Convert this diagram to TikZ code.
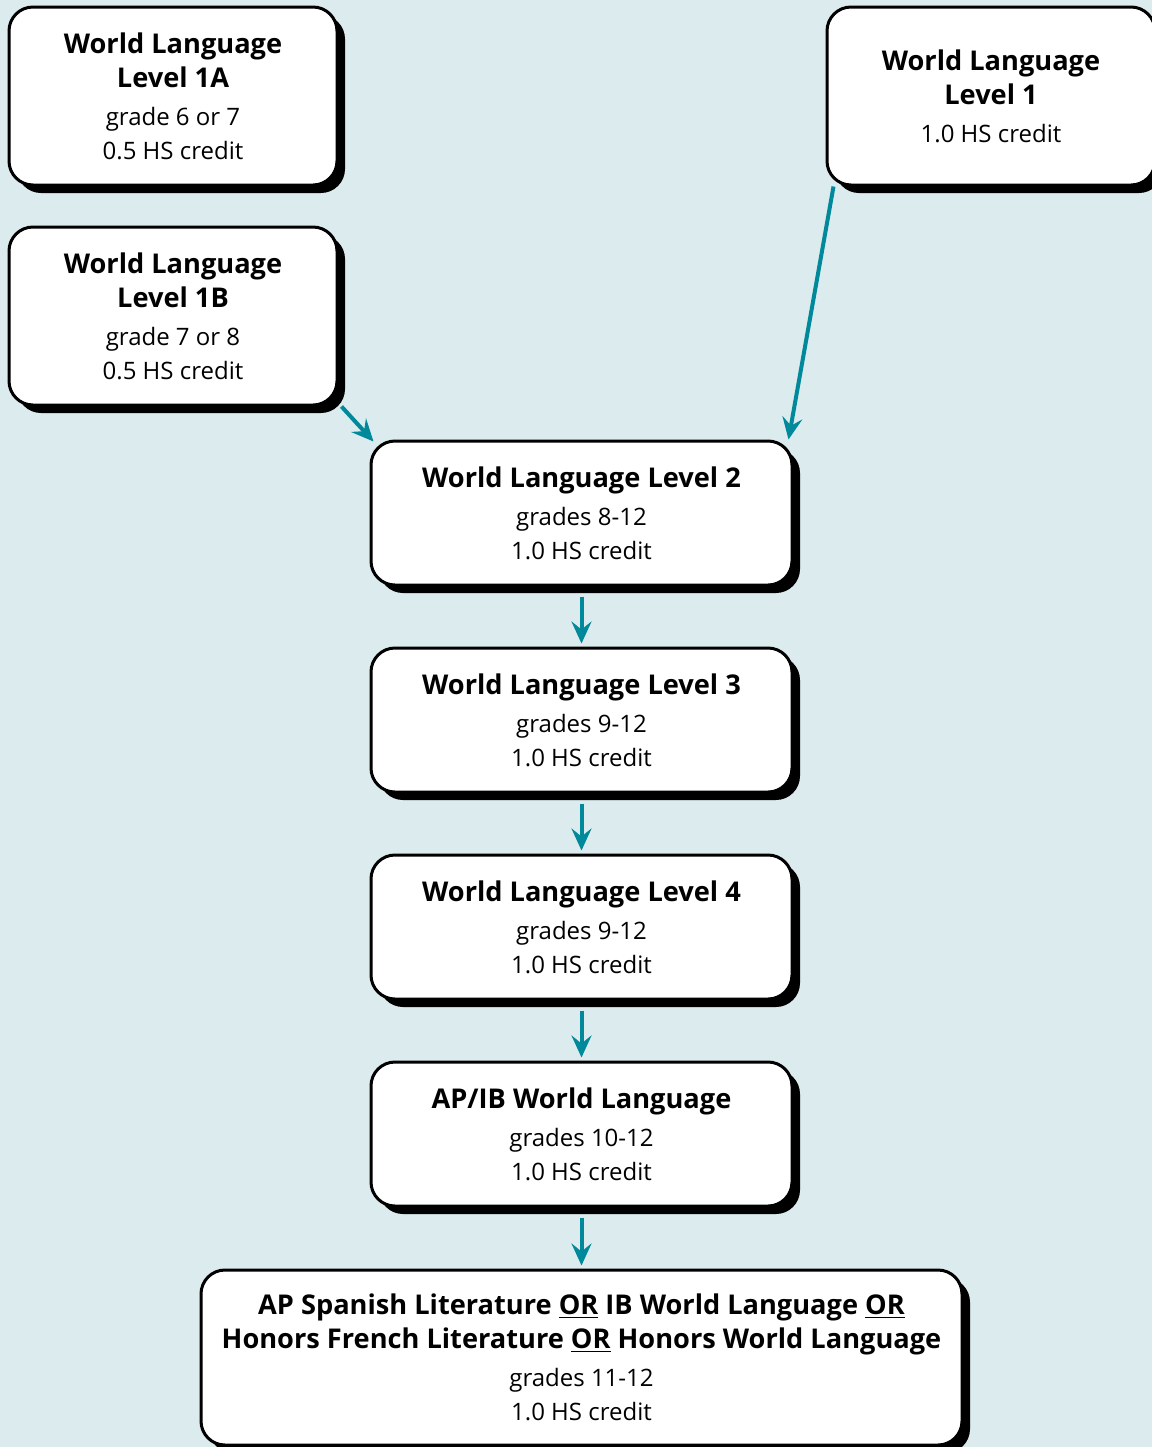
\documentclass[tikz,border=0pt]{standalone}
\usepackage{fontspec}
\setmainfont{Open Sans}
\usetikzlibrary{shadows,arrows.meta}

\definecolor{pagebg}{HTML}{DCEBEE}
\definecolor{flowteal}{HTML}{00899A}
\newcommand{\coursehead}[1]{{\fontsize{13.6}{17}\selectfont\bfseries #1}}

\begin{document}
\begin{tikzpicture}[
    x=0.5pt, y=-0.5pt,
    course/.style = {
      shape=rectangle,
      rounded corners=12pt,
      draw=black,
      line width=1.5pt,
      fill=white,
      align=center,
      inner sep=0pt,
      font=\fontsize{12}{17}\selectfont,
      drop shadow={shadow xshift=4pt, shadow yshift=-4pt, fill=black, opacity=1}
    },
    smallcourse/.style = {course, minimum width=164pt, minimum height=89pt},
    midcourse/.style = {course, minimum width=210.5pt, minimum height=72pt},
    flow/.style = {draw=flowteal, line width=2pt,
      -{Stealth[length=11pt, width=10pt, inset=4pt]}}
  ]

  \fill[pagebg] (0,0) rectangle (1152,1447);
  \useasboundingbox (0,0) rectangle (1152,1447);
  \clip (0,0) rectangle (1152,1447);

  \node[smallcourse] (l1a) at (173,96)
    {\coursehead{World Language}\\\coursehead{Level 1A}\\[2pt]grade 6 or 7\\0.5 HS credit};
  \node[smallcourse] (l1b) at (173,316)
    {\coursehead{World Language}\\\coursehead{Level 1B}\\[2pt]grade 7 or 8\\0.5 HS credit};
  \node[smallcourse] (l1) at (991,96)
    {\coursehead{World Language}\\\coursehead{Level 1}\\[2pt]1.0 HS credit};

  \node[midcourse] (l2) at (581.5,513)
    {\coursehead{World Language Level 2}\\[2pt]grades 8-12\\1.0 HS credit};
  \node[midcourse] (l3) at (581.5,720)
    {\coursehead{World Language Level 3}\\[2pt]grades 9-12\\1.0 HS credit};
  \node[midcourse] (l4) at (581.5,927)
    {\coursehead{World Language Level 4}\\[2pt]grades 9-12\\1.0 HS credit};
  \node[midcourse] (apib) at (581.5,1134)
    {\coursehead{AP/IB World Language}\\[2pt]grades 10-12\\1.0 HS credit};

  \node[course, minimum width=380.5pt, minimum height=87.5pt] (adv) at (581.5,1357.5)
    {\coursehead{AP Spanish Literature \underline{OR} IB World Language \underline{OR}}\\
     \coursehead{Honors French Literature \underline{OR} Honors World Language}\\[2pt]
     grades 11-12\\1.0 HS credit};

  % connectors
  \draw[flow] ([xshift=1.5pt]l1b.south east) -- ([xshift=2pt,yshift=-1pt]l2.north west);
  \draw[flow] ([xshift=4pt]l1.south west) -- ([xshift=-2.5pt]l2.north east);
  \draw[flow, shorten <=5pt, shorten >=1.5pt] (l2.south) -- (l3.north);
  \draw[flow, shorten <=5pt, shorten >=1.5pt] (l3.south) -- (l4.north);
  \draw[flow, shorten <=5pt, shorten >=1.5pt] (l4.south) -- (apib.north);
  \draw[flow, shorten <=5pt, shorten >=1.5pt] (apib.south) -- (adv.north);

\end{tikzpicture}
\end{document}
